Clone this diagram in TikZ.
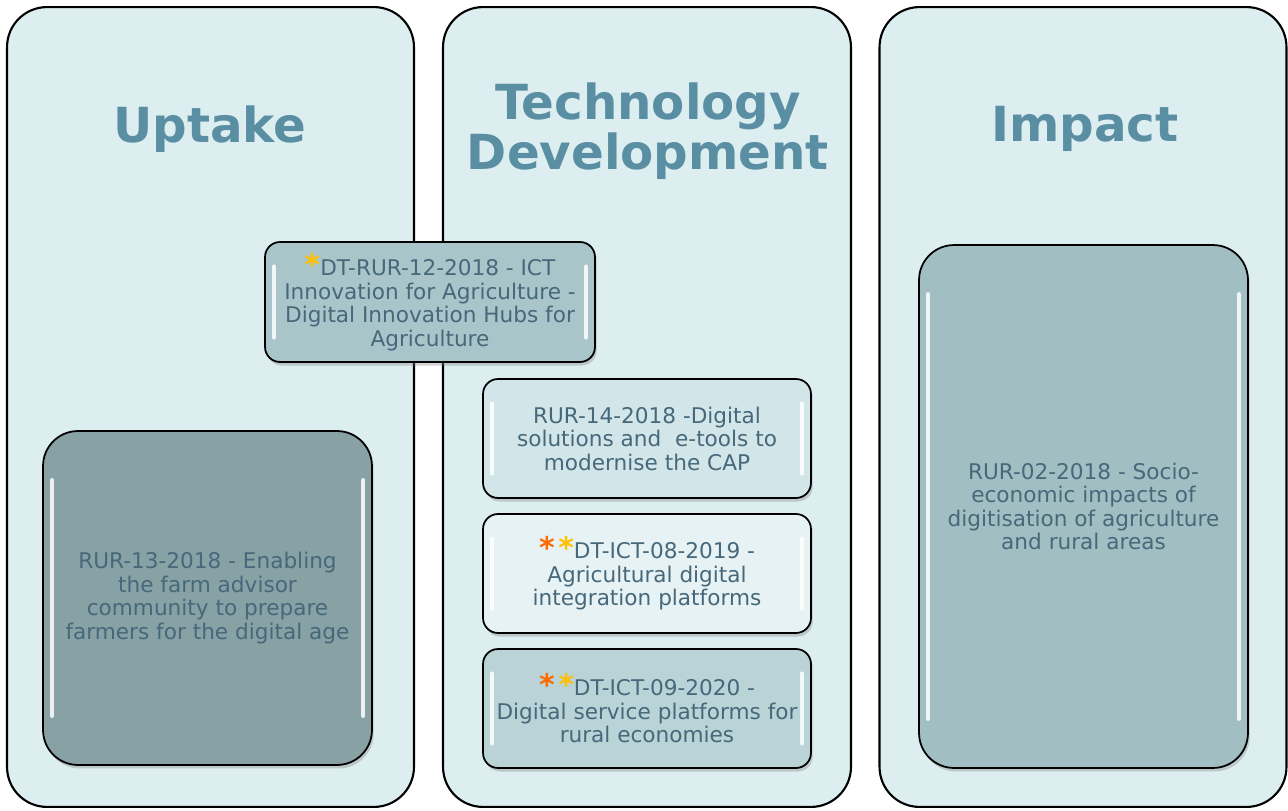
\documentclass[tikz,border=0pt]{standalone}
\usepackage{fontspec}
\setmainfont{DejaVu Sans}
\usetikzlibrary{shadows}

\definecolor{panelfill}{HTML}{DDEEF1}
\definecolor{titleblue}{HTML}{5A8FA3}
\definecolor{textblue}{HTML}{46687A}
\definecolor{hubfill}{HTML}{A9C5C9}
\definecolor{capfill}{HTML}{D2E6E9}
\definecolor{platfill}{HTML}{E6F2F4}
\definecolor{servfill}{HTML}{B9D3D7}
\definecolor{advfill}{HTML}{87A1A5}
\definecolor{impfill}{HTML}{A1BFC2}
\definecolor{starorange}{HTML}{FF6A00}
\definecolor{staryellow}{HTML}{FFC000}

\newcommand{\orgstar}{{\color{starorange}\fontsize{17}{17}\selectfont\bfseries*}}
\newcommand{\yelstar}{{\color{staryellow}\fontsize{17}{17}\selectfont\bfseries*}}

\tikzset{
  panel/.style={draw=black, line width=1.2pt, fill=panelfill, rounded corners=0.8cm,
    minimum width=8.14cm, minimum height=16cm},
  title/.style={text=titleblue, font=\fontsize{27.5}{28.5}\selectfont\bfseries, align=center},
  glossy/.style={path picture={
    \draw[white, line width=2.5pt, line cap=round, opacity=0.85]
      ([xshift=5pt, yshift=-#1]path picture bounding box.north west) --
      ([xshift=5pt, yshift=#1]path picture bounding box.south west)
      ([xshift=-5pt, yshift=-#1]path picture bounding box.north east) --
      ([xshift=-5pt, yshift=#1]path picture bounding box.south east);}},
  call/.style={draw=black, line width=1pt, fill=#1, rounded corners=0.3cm,
    minimum width=6.6cm, minimum height=2.4cm, text=textblue,
    font=\fontsize{12.3}{13.4}\selectfont, align=center,
    drop shadow={opacity=0.35, shadow xshift=1pt, shadow yshift=-2pt}, glossy=14pt},
  bigcall/.style={call=#1, rounded corners=0.7cm, minimum width=6.58cm, glossy=28pt}
}

\begin{document}
\begin{tikzpicture}[x=0.02cm, y=-0.02cm]
  \useasboundingbox (0,0) rectangle (1288,811);

  \node[panel] (uptake) at (210.5,407) {};
  \node[panel, minimum width=8.16cm] (techdev) at (647,407) {};
  \node[panel] (impact) at (1083,407) {};

  \node[title] (uptaketitle) at (210,129) {Uptake};
  \node[title] (techtitle) at (648,131) {Technology\\Development};
  \node[title] (impacttitle) at (1085,129) {Impact};

  \node[call=hubfill] (hub) at (430,302)
    {\yelstar DT-RUR-12-2018 - ICT\\Innovation for Agriculture -\\Digital Innovation Hubs for\\Agriculture};
  \node[call=capfill, minimum width=6.56cm, minimum height=2.38cm] (cap) at (647,438.5)
    {RUR-14-2018 -Digital\\solutions and\ \ e-tools to\\modernise the CAP};
  \node[call=platfill, minimum width=6.56cm, minimum height=2.38cm] (plat) at (647,573.5)
    {\orgstar\,\yelstar DT-ICT-08-2019 -\\Agricultural digital\\integration platforms};
  \node[call=servfill, minimum width=6.56cm, minimum height=2.38cm] (serv) at (647,708.5)
    {\orgstar\,\yelstar DT-ICT-09-2020 -\\Digital service platforms for\\rural economies};

  \node[bigcall=advfill, minimum height=6.68cm] (advisor) at (207.5,598)
    {RUR-13-2018 - Enabling\\the farm advisor\\community to prepare\\farmers for the digital age};
  \node[bigcall=impfill, minimum height=10.46cm] (socio) at (1083.5,506.5)
    {RUR-02-2018 - Socio-\\economic impacts of\\digitisation of agriculture\\and rural areas};
\end{tikzpicture}
\end{document}
